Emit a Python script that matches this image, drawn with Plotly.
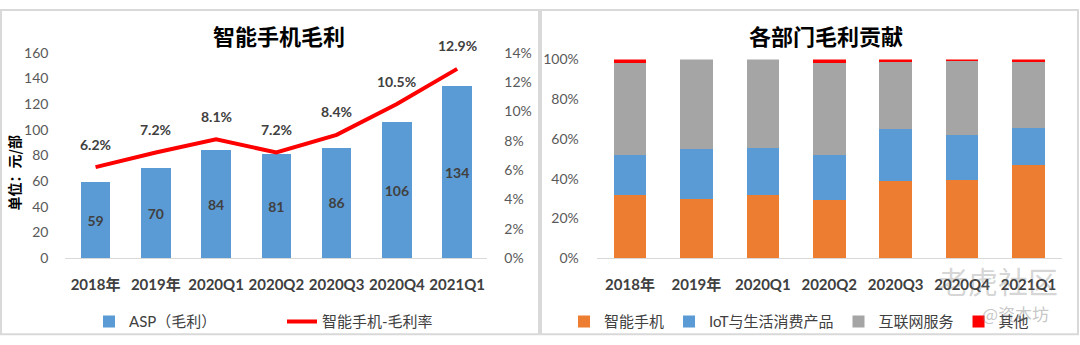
import plotly.graph_objects as go

# ---------------- data ----------------
categories = ["2018年", "2019年", "2020Q1", "2020Q2", "2020Q3", "2020Q4", "2021Q1"]

# left panel
asp_profit = [59, 70, 84, 81, 86, 106, 134]          # 元/部
margin_rate = [6.2, 7.2, 8.1, 7.2, 8.4, 10.5, 12.9]  # %
asp_ticks = [0, 20, 40, 60, 80, 100, 120, 140, 160]
rate_ticks = [0, 2, 4, 6, 8, 10, 12, 14]

# right panel (share of gross profit, %)
phone_share = [31.5, 29.9, 32.0, 29.3, 38.7, 39.2, 46.7]
iot_share = [20.5, 24.8, 23.2, 22.7, 26.1, 22.7, 18.9]
internet_share = [46.1, 45.3, 44.8, 46.4, 34.1, 37.1, 33.3]
other_share = [1.9, 0.0, 0.0, 1.6, 1.1, 1.0, 1.1]
share_ticks = [0, 20, 40, 60, 80, 100]

# ---------------- style ----------------
W, H = 1080, 345
BLUE = "#5b9bd5"
ORANGE = "#ed7d31"
GRAY = "#a5a5a5"
RED = "#ff0000"
FONT = "Lato, 'Noto Sans CJK SC', sans-serif"
CJK = "'Noto Sans CJK SC', sans-serif"
TICK_GRAY = "#595959"
DARK = "#404040"
BORDER = "#d9d9d9"


def px_x(p):
    return p / W


def px_y(p):
    return 1 - p / H


fig = go.Figure()

# left: bars
fig.add_trace(go.Bar(
    x=categories, y=asp_profit, name="ASP（毛利）",
    marker=dict(color=BLUE, line=dict(width=0)), width=0.49,
    text=[str(v) for v in asp_profit], textposition="inside", textangle=0,
    insidetextanchor="middle", constraintext="none",
    textfont=dict(size=14, color=DARK, family=FONT, weight="bold"),
    xaxis="x", yaxis="y", legend="legend", hoverinfo="skip",
))
# left: margin line
fig.add_trace(go.Scatter(
    x=categories, y=margin_rate, name="智能手机-毛利率", mode="lines",
    line=dict(color=RED, width=4), xaxis="x", yaxis="y2",
    legend="legend", hoverinfo="skip",
))

# right: stacked shares
for name, vals, col in [
    ("智能手机", phone_share, ORANGE),
    ("IoT与生活消费产品", iot_share, BLUE),
    ("互联网服务", internet_share, GRAY),
    ("其他", other_share, RED),
]:
    fig.add_trace(go.Bar(
        x=categories, y=vals, name=name, width=0.49,
        marker=dict(color=col, line=dict(width=0)),
        xaxis="x2", yaxis="y3", legend="legend2", hoverinfo="skip",
    ))

annotations = []
for c, v in zip(categories, margin_rate):
    annotations.append(dict(
        x=c, y=v, xref="x", yref="y2", text=f"{v:.1f}%", showarrow=False,
        xanchor="center", yanchor="middle", yshift=23,
        font=dict(size=14, color=DARK, family=FONT, weight="bold"),
    ))

# titles
annotations.append(dict(x=px_x(278.5), y=px_y(27.5), xref="paper", yref="paper",
                        xanchor="center", yanchor="middle",
                        text="智能手机毛利", showarrow=False,
                        font=dict(size=22, color="#000000", family=CJK, weight="bold")))
annotations.append(dict(x=px_x(826.5), y=px_y(27.5), xref="paper", yref="paper",
                        xanchor="center", yanchor="middle",
                        text="各部门毛利贡献", showarrow=False,
                        font=dict(size=22, color="#000000", family=CJK, weight="bold")))
# left y-axis unit label
annotations.append(dict(x=px_x(14), y=px_y(173), xref="paper", yref="paper",
                        xanchor="center", yanchor="middle", textangle=-90,
                        text="单位：元/部", showarrow=False,
                        font=dict(size=14, color="#000000", family=CJK, weight="bold")))

# faint watermark seen in the reference
annotations.append(dict(x=px_x(998), y=px_y(285), xref="paper", yref="paper",
                        xanchor="center", yanchor="middle",
                        text="老虎社区", showarrow=False,
                        font=dict(size=30, color="rgba(110,110,110,0.30)", family=CJK)))
annotations.append(dict(x=px_x(1015), y=px_y(320), xref="paper", yref="paper",
                        xanchor="center", yanchor="middle",
                        text="@资本坊", showarrow=False,
                        font=dict(size=17, color="rgba(110,110,110,0.40)", family=CJK)))

shapes = [
    dict(type="rect", xref="paper", yref="paper",
         x0=px_x(1), x1=px_x(539), y0=px_y(342), y1=px_y(1),
         line=dict(color=BORDER, width=2), layer="below"),
    dict(type="rect", xref="paper", yref="paper",
         x0=px_x(541), x1=px_x(1078), y0=px_y(342), y1=px_y(1),
         line=dict(color=BORDER, width=2), layer="below"),
]

tickfont_y = dict(size=14, color=TICK_GRAY, family=FONT)
tickfont_x = dict(size=15, color=DARK, family=FONT, weight="bold")

fig.update_layout(
    width=W, height=H, margin=dict(l=0, r=0, t=0, b=0),
    paper_bgcolor="white", plot_bgcolor="white",
    barmode="stack", showlegend=True,
    font=dict(family=FONT),
    xaxis=dict(domain=[px_x(65.4), px_x(487.3)], anchor="y", type="category",
               range=[-0.5, 6.5], showline=True, linecolor=BORDER, linewidth=1,
               ticks="", tickfont=tickfont_x, ticklabelstandoff=13, showgrid=False),
    yaxis=dict(domain=[px_y(262), px_y(46)], anchor="x", range=[0, 160],
               tickvals=asp_ticks, ticktext=[str(t) for t in asp_ticks],
               showgrid=False, zeroline=False, showline=False,
               ticks="", tickfont=tickfont_y, ticklabelstandoff=16),
    yaxis2=dict(overlaying="y", side="right", anchor="x", range=[0, 14],
                tickvals=rate_ticks, ticktext=[f"{t}%" for t in rate_ticks],
                showgrid=False, zeroline=False,
                showline=False, ticks="", tickfont=tickfont_y, ticklabelstandoff=16),
    xaxis2=dict(domain=[px_x(596.8), px_x(1061.7)], anchor="y3", type="category",
                range=[-0.5, 6.5], showline=True, linecolor=BORDER, linewidth=1,
                ticks="", tickfont=tickfont_x, ticklabelstandoff=13, showgrid=False),
    yaxis3=dict(domain=[px_y(262), px_y(53)], anchor="x2", range=[0, 100],
                tickvals=share_ticks, ticktext=[f"{t}%" for t in share_ticks],
                showgrid=False, zeroline=False,
                showline=False, ticks="", tickfont=tickfont_y, ticklabelstandoff=17),
    legend=dict(orientation="h", x=px_x(89), y=px_y(329), xanchor="left", yanchor="middle",
                font=dict(size=15, color=DARK, family=FONT), bgcolor="rgba(0,0,0,0)",
                entrywidth=148, traceorder="normal"),
    legend2=dict(orientation="h", x=px_x(564), y=px_y(329), xanchor="left", yanchor="middle",
                 font=dict(size=15, color=DARK, family=FONT), bgcolor="rgba(0,0,0,0)",
                 traceorder="normal"),
    annotations=annotations, shapes=shapes,
)

fig.write_html("out.html")
